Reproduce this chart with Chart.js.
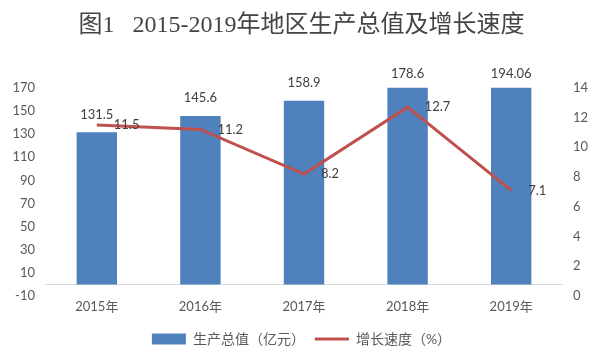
<!DOCTYPE html>
<html>
<head>
<meta charset="utf-8">
<script src="https://cdn.jsdelivr.net/npm/chart.js@4/dist/chart.umd.min.js"></script>
<style>
  html, body { margin: 0; padding: 0; background: #fff; }
  #wrap { width: 603px; height: 360px; }
</style>
</head>
<body>
<div id="wrap"><canvas id="gdp"></canvas></div>
<script>
const years = ['2015年', '2016年', '2017年', '2018年', '2019年'];
const gdpValues = [131.5, 145.6, 158.9, 178.6, 194.06];
const growthRates = [11.5, 11.2, 8.2, 12.7, 7.1];
const leftTicks = [-10, 170, 20];   // min, max, step
const rightTicks = [0, 14, 2];

const sansFont = 'Lato, "Noto Sans CJK SC", sans-serif';

// horizontal axis line at 0 on the left scale
const zeroLine = {
    id: 'zeroLine',
    beforeDatasetsDraw(chart) {
        const { ctx, chartArea, scales } = chart;
        const y = Math.round(scales.y.getPixelForValue(0)) + 0.5;
        ctx.save();
        ctx.strokeStyle = '#d9d9d9';
        ctx.lineWidth = 1;
        ctx.beginPath();
        ctx.moveTo(chartArea.left, y);
        ctx.lineTo(chartArea.right, y);
        ctx.stroke();
        ctx.restore();
    }
};

// value labels
const valueLabels = {
    id: 'valueLabels',
    afterDatasetsDraw(chart) {
        const { ctx, chartArea } = chart;
        ctx.save();
        ctx.font = '13px ' + sansFont;
        ctx.fillStyle = '#404040';
        ctx.textBaseline = 'middle';

        ctx.textAlign = 'center';
        chart.getDatasetMeta(0).data.forEach((bar, i) => {
            const clipped = bar.y < chartArea.top;
            const y = clipped ? chartArea.top - 14 : bar.y - 18;
            ctx.fillText(String(gdpValues[i]), bar.x, y);
        });

        ctx.textAlign = 'left';
        chart.getDatasetMeta(1).data.forEach((pt, i) => {
            ctx.fillText(String(growthRates[i]), pt.x + 17, pt.y);
        });
        ctx.restore();
    }
};

new Chart(document.getElementById('gdp'), {
    data: {
        labels: years,
        datasets: [{
            type: 'bar',
            label: '生产总值（亿元）',
            data: gdpValues,
            backgroundColor: '#4f81bd',
            borderWidth: 0,
            barPercentage: 0.39,
            categoryPercentage: 1,
            yAxisID: 'y',
            order: 1
        }, {
            type: 'line',
            label: '增长速度（%）',
            data: growthRates,
            borderColor: '#c0504d',
            backgroundColor: '#c0504d',
            borderWidth: 3,
            pointRadius: 0,
            tension: 0,
            yAxisID: 'y1',
            order: 0
        }]
    },
    options: {
        responsive: true,
        maintainAspectRatio: false,
        animation: false,
        layout: { padding: { left: 0, right: 0, top: 0, bottom: 4 } },
        scales: {
            x: {
                grid: { display: false, drawTicks: false },
                border: { display: false },
                ticks: { color: '#595959', font: { size: 13, family: sansFont }, padding: 3 },
                afterFit(scale) { scale.height = 26; }
            },
            y: {
                position: 'left',
                min: leftTicks[0],
                max: leftTicks[1],
                ticks: { stepSize: leftTicks[2], color: '#595959', font: { size: 13, family: sansFont }, padding: 10 },
                grid: { display: false, drawTicks: false },
                border: { display: false },
                afterFit(scale) { scale.width = 45; }
            },
            y1: {
                position: 'right',
                min: rightTicks[0],
                max: rightTicks[1],
                ticks: { stepSize: rightTicks[2], color: '#595959', font: { size: 13, family: sansFont }, padding: 10 },
                grid: { display: false, drawTicks: false },
                border: { display: false },
                afterFit(scale) { scale.width = 40; }
            }
        },
        plugins: {
            title: {
                display: true,
                text: '图1   2015-2019年地区生产总值及增长速度',
                color: '#444444',
                font: { size: 24, weight: 'normal', family: '"Liberation Serif", "Noto Sans CJK SC", serif' },
                padding: { top: 11, bottom: 48 }
            },
            legend: {
                position: 'bottom',
                labels: {
                    usePointStyle: true,
                    pointStyleWidth: 34,
                    boxHeight: 11,
                    padding: 10,
                    color: '#595959',
                    font: { size: 14, family: sansFont },
                    sort: (a, b) => a.datasetIndex - b.datasetIndex,
                    generateLabels(chart) {
                        const items = Chart.defaults.plugins.legend.labels.generateLabels(chart);
                        items.forEach(it => {
                            if (it.datasetIndex === 0) { it.pointStyle = 'rect'; it.lineWidth = 0; }
                            else { it.pointStyle = 'line'; it.lineWidth = 3; it.strokeStyle = '#c0504d'; }
                        });
                        return items;
                    }
                }
            },
            tooltip: { enabled: false }
        }
    },
    plugins: [zeroLine, valueLabels]
});
</script>
</body>
</html>
